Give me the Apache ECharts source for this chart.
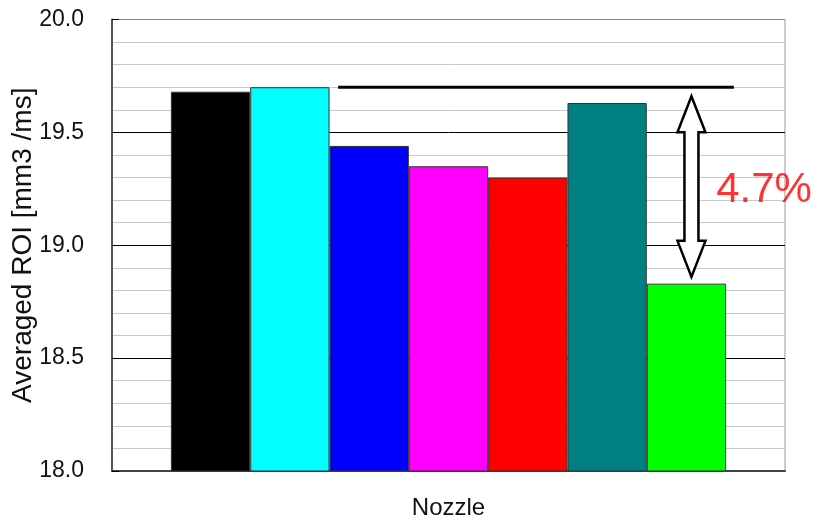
<!DOCTYPE html>
<html>
<head>
<meta charset="utf-8">
<script src="https://cdn.jsdelivr.net/npm/echarts@6/dist/echarts.min.js"></script>
<style>
	html, body { margin: 0; padding: 0; background: #fff; }
	#main { width: 818px; height: 523px; }
</style>
</head>
<body>
<div id="main"></div>
<script>
// data
const categories = ['Nozzle']
const seriesNames = ['N1', 'N2', 'N3', 'N4', 'N5', 'N6', 'N7']
const barColors = ['#000000', '#00ffff', '#0000ff', '#ff00ff', '#ff0000', '#008080', '#00ff00']
const roiValues = [19.68, 19.70, 19.44, 19.35, 19.30, 19.63, 18.83]
const yMin = 18.0
const yMax = 20.0
const yStep = 0.5

// annotation (x is fraction of plot width on a hidden helper axis)
const refLineX = [0.336, 0.924]
const refLineY = 19.70
const arrowX = 0.861
const arrowY = [19.66, 18.86]
const diffText = '4.7%'
const diffPos = [0.897, 19.245]

const chartDom = document.getElementById('main')
const myChart = echarts.init(chartDom)
const font = 'Liberation Sans, Arial, sans-serif'

const barSeries = roiValues.map((v, i) => ({
	name: seriesNames[i],
	type: 'bar',
	barGap: '0%',
	barCategoryGap: '17.5%',
	itemStyle: { color: barColors[i], borderColor: '#333', borderWidth: 1 },
	data: [v]
}))

const option = {
	animation: false,
	textStyle: { fontFamily: font },
	grid: {
		left: 112, top: 19.5, right: 33, bottom: 52,
		containLabel: false,
		outerBoundsMode: 'none',
		show: true, borderColor: '#999', borderWidth: 1
	},
	xAxis: [
		{
			type: 'category',
			data: categories,
			axisLine: { lineStyle: { color: '#444', width: 2 } },
			axisTick: { show: false },
			axisLabel: { color: '#111', fontSize: 24, margin: 25, fontFamily: font }
		},
		{ type: 'value', min: 0, max: 1, show: false }
	],
	yAxis: {
		type: 'value',
		min: yMin,
		max: yMax,
		interval: yStep,
		name: 'Averaged ROI [mm3 /ms]',
		nameLocation: 'middle',
		nameGap: 75,
		nameMoveOverlap: false,
		nameTextStyle: { color: '#111', fontSize: 28, fontFamily: font },
		axisLine: { show: true, lineStyle: { color: '#555', width: 2 } },
		axisTick: { show: true, inside: true, length: 7, lineStyle: { color: '#000' } },
		axisLabel: { color: '#111', fontSize: 23, margin: 28, fontFamily: font, formatter: v => v.toFixed(1) },
		splitLine: { show: true, lineStyle: { color: ['#444', '#000', '#000', '#000', '#888'], width: 1 } },
		minorTick: { show: false, splitNumber: 5 },
		minorSplitLine: { show: true, lineStyle: { color: '#c8c8c8', width: 1 } }
	},
	series: [
		...barSeries,
		{
			type: 'line',
			xAxisIndex: 1,
			symbol: 'none',
			silent: true,
			lineStyle: { color: '#000', width: 3 },
			data: refLineX.map(x => [x, refLineY])
		},
		{
			type: 'custom',
			xAxisIndex: 1,
			clip: false,
			silent: true,
			data: [[arrowX, arrowY[0], arrowY[1]]],
			renderItem: (params, api) => {
				const top = api.coord([api.value(0), api.value(1)])
				const bot = api.coord([api.value(0), api.value(2)])
				const cx = top[0]
				const hw = 14, sw = 7, hl = 36
				const pts = [
					[cx, top[1]],
					[cx + hw, top[1] + hl],
					[cx + sw, top[1] + hl],
					[cx + sw, bot[1] - hl],
					[cx + hw, bot[1] - hl],
					[cx, bot[1]],
					[cx - hw, bot[1] - hl],
					[cx - sw, bot[1] - hl],
					[cx - sw, top[1] + hl],
					[cx - hw, top[1] + hl]
				]
				return {
					type: 'polygon',
					shape: { points: pts },
					style: { fill: '#fff', stroke: '#000', lineWidth: 2.5 }
				}
			}
		},
		{
			type: 'scatter',
			xAxisIndex: 1,
			symbolSize: 1,
			silent: true,
			itemStyle: { color: 'rgba(0,0,0,0)' },
			label: {
				show: true,
				position: 'right',
				distance: 0,
				formatter: diffText,
				color: '#ff0000',
				fontSize: 42,
				fontFamily: font
			},
			data: [diffPos]
		}
	]
}

option && myChart.setOption(option)
</script>
</body>
</html>
